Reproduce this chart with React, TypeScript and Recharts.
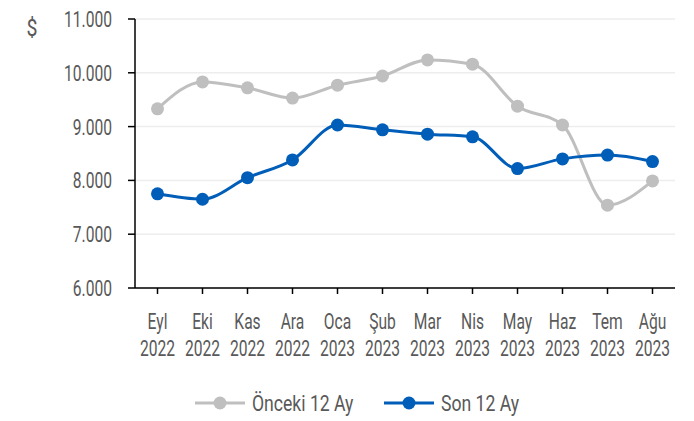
import React from "react";
import {
  LineChart,
  Line,
  XAxis,
  YAxis,
  CartesianGrid,
  Legend,
} from "recharts";

const months = ["Eyl", "Eki", "Kas", "Ara", "Oca", "Şub", "Mar", "Nis", "May", "Haz", "Tem", "Ağu"];
const years = ["2022", "2022", "2022", "2022", "2023", "2023", "2023", "2023", "2023", "2023", "2023", "2023"];
const oncekiValues = [9330, 9830, 9720, 9530, 9770, 9940, 10240, 10160, 9380, 9030, 7540, 7990];
const sonValues = [7750, 7650, 8050, 8380, 9030, 8940, 8860, 8810, 8220, 8400, 8470, 8350];
const yTicks = [6000, 7000, 8000, 9000, 10000, 11000];

const data = months.map((m, i) => ({
  label: m + "|" + years[i],
  onceki: oncekiValues[i],
  son: sonValues[i],
}));

// narrow look: Roboto squeezed horizontally
const FONT = "Roboto, 'Open Sans', sans-serif";
const SQ = 0.71;
const FS = 22;
const TEXT = "#595959";
const GREY = "#BFBFBF";
const BLUE = "#005EB8";

const fmt = (v: number) => v.toString().replace(/\B(?=(\d{3})+(?!\d))/g, ".");

const MonthTick = (props: any) => {
  const { x, y, payload } = props;
  const [m, yr] = String(payload.value).split("|");
  return (
    <g transform={`translate(${x},${y}) scale(${SQ},1)`}>
      <text x={0} y={33} textAnchor="middle" fill={TEXT} fontSize={FS} fontFamily={FONT}>
        {m}
      </text>
      <text x={0} y={60} textAnchor="middle" fill={TEXT} fontSize={FS} fontFamily={FONT}>
        {yr}
      </text>
    </g>
  );
};

const ValueTick = (props: any) => {
  const { x, y, payload } = props;
  return (
    <g transform={`translate(${x},${y}) scale(${SQ},1)`}>
      <text x={0} y={0} dy="0.36em" textAnchor="end" fill={TEXT} fontSize={FS} fontFamily={FONT}>
        {fmt(payload.value)}
      </text>
    </g>
  );
};

const legendItems = [
  { name: "Önceki 12 Ay", color: GREY, x: 195 },
  { name: "Son 12 Ay", color: BLUE, x: 384 },
];

const renderLegend = () => (
  <svg width={694} height={34} style={{ display: "block" }}>
    {legendItems.map((it) => (
      <g key={it.name} transform={`translate(${it.x},16)`}>
        <line x1={0} y1={0} x2={50} y2={0} stroke={it.color} strokeWidth={3} />
        <circle cx={25} cy={0} r={6.5} fill={it.color} />
        <g transform={`translate(57,0) scale(0.8,1)`}>
          <text x={0} y={0} dy="0.36em" fill={TEXT} fontSize={FS} fontFamily={FONT}>
            {it.name}
          </text>
        </g>
      </g>
    ))}
  </svg>
);

export default function App() {
  return (
    <div style={{ position: "relative", width: 694, height: 421, background: "#fff" }}>
      <style>{`body{margin:0}`}</style>
      <svg width={30} height={44} style={{ position: "absolute", left: 18, top: 6 }}>
        <g transform={`translate(14,30) scale(0.85,1)`}>
          <text x={0} y={0} textAnchor="middle" fill={TEXT} fontSize={23} fontFamily={FONT}>
            $
          </text>
        </g>
      </svg>
      <LineChart
        width={694}
        height={421}
        data={data}
        margin={{ top: 19, right: 19, bottom: 0, left: 0 }}
      >
        <CartesianGrid vertical={false} stroke="#EDEDED" strokeWidth={1.5} />
        <XAxis
          dataKey="label"
          height={99}
          interval={0}
          padding={{ left: 22.5, right: 22.5 }}
          axisLine={{ stroke: "#000", strokeWidth: 1.5 }}
          tickLine={{ stroke: "#000", strokeWidth: 1.5 }}
          tickSize={6}
          tick={<MonthTick />}
        />
        <YAxis
          width={135}
          domain={[6000, 11000]}
          ticks={yTicks}
          interval={0}
          axisLine={{ stroke: "#000", strokeWidth: 1.5 }}
          tickLine={{ stroke: "#000", strokeWidth: 1.5 }}
          tickSize={7}
          tickMargin={16}
          tick={<ValueTick />}
        />
        <Legend verticalAlign="bottom" content={renderLegend} />
        <Line
          type="monotone"
          dataKey="onceki"
          name="Önceki 12 Ay"
          stroke={GREY}
          strokeWidth={3}
          dot={{ r: 6.5, fill: GREY, stroke: "none" }}
          activeDot={false}
          isAnimationActive={false}
        />
        <Line
          type="monotone"
          dataKey="son"
          name="Son 12 Ay"
          stroke={BLUE}
          strokeWidth={3}
          dot={{ r: 6.5, fill: BLUE, stroke: "none" }}
          activeDot={false}
          isAnimationActive={false}
        />
      </LineChart>
    </div>
  );
}
